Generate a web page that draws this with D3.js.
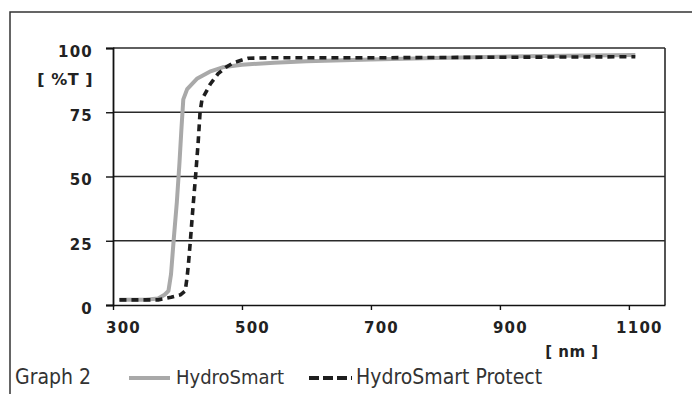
<!DOCTYPE html>
<html><head><meta charset="utf-8">
<script src="https://cdn.jsdelivr.net/npm/d3@7"></script>
<style>html,body{margin:0;padding:0;background:#fff;}svg{display:block;}</style>
</head><body>
<svg id="chart" width="692" height="394"></svg>
<script>
const xTicks = [300, 500, 700, 900, 1100];
const yTicks = [0, 25, 50, 75, 100];
const seriesNames = ["HydroSmart", "HydroSmart Protect"];
const hydroSmart = [
  [310,2],[330,2],[350,2],[370,2.5],[380,4],[386,5.5],[390,12],[394,25],[399,40],[403,55],[406,68],
  [409,80],[415,84],[430,88],[450,90.8],[470,92.5],[500,93.5],[550,94.3],[600,94.8],[700,95.5],
  [800,96.1],[900,96.6],[1000,97],[1110,97.3]
];
const hydroSmartProtect = [
  [310,2],[330,2],[350,2],[370,2],[390,3],[405,4],[412,5.5],[415,11],[417,16],[420,25],[424,38],
  [428,50],[432,63],[435,75],[438,80],[451,86],[463,90],[475,92.5],[487,94.3],[500,95.3],[510,96],
  [550,96.2],[600,96.2],[700,96.2],[800,96.3],[900,96.4],[1000,96.5],[1110,96.6]
];

const svg = d3.select("#chart");
const x = d3.scaleLinear().domain([300, 1156]).range([113, 665]);
const y = d3.scaleLinear().domain([0, 100]).range([305, 48]);

// outer frame
svg.append("rect").attr("x", 10).attr("y", 12).attr("width", 700).attr("height", 400)
  .attr("fill", "#fff").attr("stroke", "#333").attr("stroke-width", 1.5);

// gridlines
svg.append("g").selectAll("line").data(yTicks.filter(d => d > 0)).join("line")
  .attr("x1", x(300)).attr("x2", x.range()[1])
  .attr("y1", d => y(d)).attr("y2", d => y(d))
  .attr("stroke", "#2a2a2a").attr("stroke-width", 1.4);
// right border of plot
svg.append("line").attr("x1", x.range()[1]).attr("x2", x.range()[1])
  .attr("y1", y(100)).attr("y2", y(0)).attr("stroke", "#2a2a2a").attr("stroke-width", 1.6);

// y axis
const yAxis = svg.append("g").attr("transform", `translate(${x(300)},0)`)
  .call(d3.axisLeft(y).tickValues(yTicks).tickSize(7).tickPadding(13).tickFormat(d3.format("d")));
yAxis.select(".domain").attr("stroke", "#111").attr("stroke-width", 1.8);
yAxis.selectAll(".tick line").attr("stroke", "#111").attr("stroke-width", 1.4);
yAxis.selectAll(".tick text").attr("font-family", "DejaVu Sans").attr("font-weight", "bold")
  .attr("font-size", 15).attr("fill", "#222").attr("letter-spacing", 1.2).attr("dy", "0.55em");

// x axis
const xAxis = svg.append("g").attr("transform", `translate(0,${y(0)})`)
  .call(d3.axisBottom(x).tickValues(xTicks).tickSize(5).tickPadding(12).tickSizeOuter(0)
    .tickFormat(d3.format("d")));
xAxis.select(".domain").attr("stroke", "#111").attr("stroke-width", 1.6);
xAxis.selectAll(".tick line").attr("stroke", "#111").attr("stroke-width", 1.4);
xAxis.selectAll(".tick text").attr("font-family", "DejaVu Sans").attr("font-weight", "bold")
  .attr("font-size", 15).attr("fill", "#222").attr("letter-spacing", 1.2).attr("dx", 10);

// axis unit labels
svg.append("text").attr("x", 93).attr("y", 85).attr("text-anchor", "end")
  .attr("font-family", "DejaVu Sans").attr("font-weight", "bold").attr("font-size", 16)
  .attr("fill", "#222").attr("letter-spacing", 0.5).text("[ %T ]");
svg.append("text").attr("x", 572).attr("y", 357).attr("text-anchor", "middle")
  .attr("font-family", "DejaVu Sans").attr("font-weight", "bold").attr("font-size", 15)
  .attr("fill", "#222").attr("letter-spacing", 0.5).text("[ nm ]");

// lines
const line = d3.line().x(d => x(d[0])).y(d => y(d[1]));
svg.append("path").datum(hydroSmart).attr("d", line).attr("fill", "none")
  .attr("stroke", "#a9a9a9").attr("stroke-width", 4).attr("stroke-linejoin", "round");
svg.append("path").datum(hydroSmartProtect).attr("d", line).attr("fill", "none")
  .attr("stroke", "#1e1e1e").attr("stroke-width", 3.6).attr("stroke-dasharray", "7,5")
  .attr("stroke-linejoin", "round");

// legend
const lf = "DejaVu Sans Condensed, DejaVu Sans";
svg.append("text").attr("x", 15).attr("y", 384).attr("font-family", lf).attr("font-stretch", "condensed")
  .attr("font-size", 21).attr("fill", "#333").text("Graph 2");
svg.append("line").attr("x1", 129).attr("x2", 170).attr("y1", 378).attr("y2", 378)
  .attr("stroke", "#a9a9a9").attr("stroke-width", 4);
svg.append("text").attr("x", 176).attr("y", 384).attr("font-family", lf).attr("font-stretch", "condensed")
  .attr("font-size", 20).attr("fill", "#333").text(seriesNames[0]);
svg.append("line").attr("x1", 309).attr("x2", 352).attr("y1", 378).attr("y2", 378)
  .attr("stroke", "#1e1e1e").attr("stroke-width", 4).attr("stroke-dasharray", "10,4");
svg.append("text").attr("x", 356).attr("y", 384).attr("font-family", lf).attr("font-stretch", "condensed")
  .attr("font-size", 21).attr("fill", "#333").text(seriesNames[1]);
</script>
</body></html>
